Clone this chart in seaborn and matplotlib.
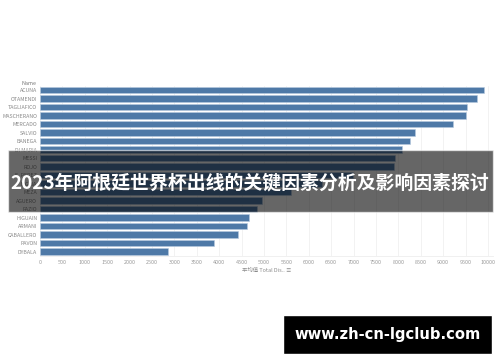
import numpy as np
import pandas as pd
import matplotlib
matplotlib.use('Agg')
from matplotlib import pyplot as plt
from matplotlib.patches import Rectangle
import seaborn as sns

# data (average total distance per player)
names = ['ACUNA', 'OTAMENDI', 'TAGLIAFICO', 'MASCHERANO', 'MERCADO', 'SALVIO',
         'BANEGA', 'DI MARIA', 'MESSI', 'ROJO', 'E. PEREZ', 'BIGLIA', 'MEZA',
         'AGUERO', 'FAZIO', 'HIGUAIN', 'ARMANI', 'CABALLERO', 'PAVON', 'DYBALA']
total_dist = [9900, 9760, 9540, 9515, 9210, 8380, 8265, 8080, 7925, 7900,
              6995, 6300, 5600, 4960, 4845, 4675, 4615, 4425, 3885, 2850]
x_ticks = list(range(0, 10001, 500))

title = '2023年阿根廷世界杯出线的关键因素分析及影响因素探讨'
site = 'www.zh-cn-lgclub.com'

df = pd.DataFrame({'Name': names, 'Total Dist': total_dist})

sns.set_style('white')
plt.rcParams['font.family'] = ['Noto Sans CJK SC', 'DejaVu Sans']

fig = plt.figure(figsize=(5, 3.62), dpi=100)
ax = fig.add_axes([0.08, 0.2935, 0.906, 0.4695])

sns.barplot(data=df, x='Total Dist', y='Name', orient='h', color='#4e79a7',
            saturation=1, width=0.78, edgecolor='#b7cbe0', linewidth=0.4, ax=ax)

ax.set_xlim(0, 10112)
ax.set_ylim(19.5, -0.5)
ax.set_xticks(x_ticks)
ax.set_xticklabels([str(t) for t in x_ticks], fontsize=3.9, color='#9a9a9a')
ax.tick_params(axis='y', labelsize=3.8, labelcolor='#8a8a8a', length=0, pad=2)
ax.tick_params(axis='x', length=0, pad=3)
ax.grid(axis='x', color='#f0f0f0', linewidth=0.6)
ax.set_axisbelow(True)
for side in ['top', 'right', 'left']:
    ax.spines[side].set_visible(False)
ax.spines['bottom'].set_color('#eeeeee')
ax.spines['bottom'].set_linewidth(0.6)
ax.set_ylabel('')
ax.set_xlabel('平均值 Total Dis.. ≡', fontsize=3.9, color='#8a8a8a', labelpad=2)
fig.text(0.072, 0.768, 'Name', fontsize=3.9, color='#777777', ha='right', va='center')

# dark band with the headline
fig.patches.append(Rectangle((0.016, 0.4144), 0.97, 0.171, transform=fig.transFigure,
                             facecolor='black', alpha=0.6, zorder=5))
fig.text(0.5, 0.494, title, fontsize=13.6, color='white', fontweight='bold',
         ha='center', va='center', zorder=6)

# watermark box
fig.patches.append(Rectangle((0.566, 0.0221), 0.418, 0.1077, transform=fig.transFigure,
                             facecolor='black', zorder=5))
fig.text(0.775, 0.076, site, fontsize=10.6, color='white', fontweight='bold',
         family=['DejaVu Sans'], ha='center', va='center', zorder=6)

fig.savefig('out.png', dpi=100)
